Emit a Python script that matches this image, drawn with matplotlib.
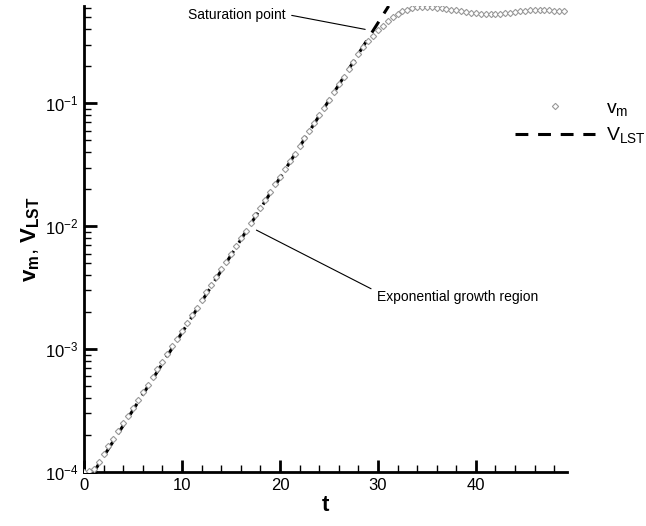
import numpy as np
import matplotlib
matplotlib.use("Agg")
import matplotlib.pyplot as plt

# --- data ---
t_vm = [0.0, 0.5, 1.0, 1.5, 2.0, 2.5, 3.0, 3.5, 4.0, 4.5, 5.0, 5.5, 6.0, 6.5, 7.0, 7.5, 8.0, 8.5,
        9.0, 9.5, 10.0, 10.5, 11.0, 11.5, 12.0, 12.5, 13.0, 13.5, 14.0, 14.5, 15.0, 15.5, 16.0,
        16.5, 17.0, 17.5, 18.0, 18.5, 19.0, 19.5, 20.0, 20.5, 21.0, 21.5, 22.0, 22.5, 23.0, 23.5,
        24.0, 24.5, 25.0, 25.5, 26.0, 26.5, 27.0, 27.5, 28.0, 28.5, 29.0, 29.5, 30.0, 30.5, 31.0,
        31.5, 32.0, 32.5, 33.0, 33.5, 34.0, 34.5, 35.0, 35.5, 36.0, 36.5, 37.0, 37.5, 38.0, 38.5,
        39.0, 39.5, 40.0, 40.5, 41.0, 41.5, 42.0, 42.5, 43.0, 43.5, 44.0, 44.5, 45.0, 45.5, 46.0,
        46.5, 47.0, 47.5, 48.0, 48.5, 49.0]
vm = [1.00e-4, 1.02e-4, 1.05e-4, 1.21e-4, 1.40e-4, 1.62e-4, 1.87e-4, 2.16e-4, 2.49e-4, 2.88e-4,
      3.33e-4, 3.85e-4, 4.44e-4, 5.13e-4, 5.93e-4, 6.85e-4, 7.91e-4, 9.14e-4, 1.06e-3, 1.22e-3,
      1.41e-3, 1.63e-3, 1.88e-3, 2.17e-3, 2.51e-3, 2.90e-3, 3.35e-3, 3.87e-3, 4.47e-3, 5.16e-3,
      5.96e-3, 6.89e-3, 7.96e-3, 9.19e-3, 1.06e-2, 1.23e-2, 1.42e-2, 1.64e-2, 1.89e-2, 2.19e-2,
      2.52e-2, 2.92e-2, 3.37e-2, 3.89e-2, 4.50e-2, 5.19e-2, 6.00e-2, 6.93e-2, 8.00e-2, 9.25e-2,
      1.07e-1, 1.23e-1, 1.43e-1, 1.65e-1, 1.90e-1, 2.18e-1, 2.50e-1, 2.85e-1, 3.20e-1, 3.55e-1,
      3.95e-1, 4.30e-1, 4.70e-1, 5.05e-1, 5.35e-1, 5.60e-1, 5.80e-1, 5.95e-1, 6.05e-1, 6.10e-1,
      6.10e-1, 6.05e-1, 6.00e-1, 5.95e-1, 5.85e-1, 5.78e-1, 5.70e-1, 5.62e-1, 5.55e-1, 5.48e-1,
      5.42e-1, 5.38e-1, 5.35e-1, 5.33e-1, 5.33e-1, 5.35e-1, 5.40e-1, 5.45e-1, 5.52e-1, 5.60e-1,
      5.65e-1, 5.70e-1, 5.72e-1, 5.73e-1, 5.72e-1, 5.70e-1, 5.68e-1, 5.66e-1, 5.65e-1]
t_lst = [1.0, 31.1]
v_lst = [1.0e-4, 6.2e-1]

x_ticks = [0, 10, 20, 30, 40]
y_ticks = [1e-4, 1e-3, 1e-2, 1e-1]
y_ticklabels = [r"$10^{-4}$", r"$10^{-3}$", r"$10^{-2}$", r"$10^{-1}$"]

plt.rcParams['font.family'] = ['Liberation Sans', 'DejaVu Sans']
plt.rcParams['mathtext.fontset'] = 'custom'
plt.rcParams['mathtext.rm'] = 'Liberation Sans'
plt.rcParams['mathtext.it'] = 'Liberation Sans'
plt.rcParams['mathtext.bf'] = 'Liberation Sans:bold'

fig = plt.figure(figsize=(6.46, 5.26), dpi=100)
ax = fig.add_axes([84/646, 1 - 472/526, (567 - 84)/646, (472 - 6)/526])

ax.plot(t_vm, vm, linestyle='none', marker='D', markersize=3.2, markerfacecolor='white',
        markeredgecolor='#999999', markeredgewidth=0.8, label=r'$\mathrm{v_m}$', zorder=3)
ax.plot(t_lst, v_lst, color='black', linestyle=(0, (4.2, 3.2)), linewidth=2.2,
        label=r'$\mathrm{V_{LST}}$', zorder=2)

ax.set_yscale('log')
ax.set_xlim(0, 49.3)
ax.set_ylim(1e-4, 0.62)
ax.set_xticks(x_ticks)
ax.set_xticks(np.arange(0, 49.3, 2), minor=True)
ax.set_yticks(y_ticks)
ax.set_yticklabels(y_ticklabels)

for s in ['top', 'right']:
    ax.spines[s].set_visible(False)
for s in ['left', 'bottom']:
    ax.spines[s].set_linewidth(2)
ax.tick_params(which='major', direction='in', length=9, width=2, labelsize=12, pad=4)
ax.tick_params(which='minor', direction='in', length=5, width=1)

ax.set_xlabel('t', fontsize=16, fontweight='bold', labelpad=2)
ax.set_ylabel(r'$\mathbf{v_m}$, $\mathbf{V_{LST}}$', fontsize=16, labelpad=2)

# annotations
ax.text(20.6, 0.525, 'Saturation point', fontsize=10, ha='right', va='center')
ax.annotate('', xy=(28.7, 0.40), xytext=(21.2, 0.52),
            arrowprops=dict(arrowstyle='-', color='black', lw=0.8, shrinkA=0, shrinkB=0))
ax.annotate('', xy=(17.6, 9.3e-3), xytext=(29.3, 3.1e-3),
            arrowprops=dict(arrowstyle='-', color='black', lw=0.8, shrinkA=0, shrinkB=0))
ax.text(29.9, 2.67e-3, 'Exponential growth region', fontsize=10, ha='left', va='center')

leg = ax.legend(loc='upper left', bbox_to_anchor=(515/646, 1 - 99/526), bbox_transform=fig.transFigure,
                frameon=False, fontsize=14, handlelength=4.1, handletextpad=0.6,
                labelspacing=0.4, borderpad=0, borderaxespad=0)

fig.savefig('out.png', dpi=100)
